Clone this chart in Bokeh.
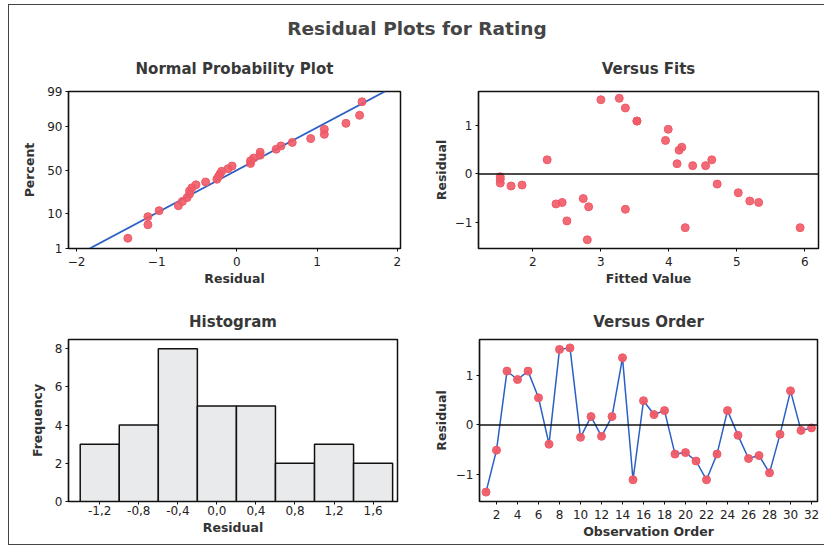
import math
import numpy as np
from bokeh.plotting import figure
from bokeh.layouts import column, row
from bokeh.models import FixedTicker, Span
from bokeh.embed import file_html
from bokeh.resources import INLINE

# ---------------- data ----------------
observation = list(range(1, 33))
residuals = [-1.36, -0.51, 1.09, 0.92, 1.09, 0.55, -0.39, 1.53, 1.56, -0.25,
             0.17, -0.23, 0.17, 1.36, -1.11, 0.49, 0.21, 0.29, -0.59, -0.56,
             -0.73, -1.11, -0.59, 0.29, -0.21, -0.68, -0.62, -0.97, -0.19, 0.69,
             -0.11, -0.06]
fitted = [2.80, 2.74, 3.53, 3.99, 3.53, 4.19, 5.02, 3.00, 3.27, 1.68,
          4.35, 1.84, 4.54, 3.36, 4.24, 4.15, 4.12, 4.63, 2.43, 5.19,
          3.36, 5.93, 5.32, 2.21, 4.71, 2.82, 2.34, 2.50, 1.52, 3.95,
          1.52, 1.52]
hist_centers = [-1.2, -0.8, -0.4, 0.0, 0.4, 0.8, 1.2, 1.6]
hist_counts = [3, 4, 8, 5, 5, 2, 3, 2]
hist_labels = ["-1,2", "-0,8", "-0,4", "0,0", "0,4", "0,8", "1,2", "1,6"]
hist_width = 0.4
prob_ticks = [1, 10, 50, 90, 99]
fits_ticks = [2, 3, 4, 5, 6]
resid_ticks = [-1, 0, 1]
order_ticks = list(range(2, 33, 2))
freq_ticks = [0, 2, 4, 6, 8]
prob_x_ticks = [-2, -1, 0, 1, 2]

# ---------------- helpers ----------------
def norm_cdf(x):
    return 0.5 * (1.0 + math.erf(x / math.sqrt(2.0)))

def norm_ppf(p):
    lo, hi = -10.0, 10.0
    for _ in range(200):
        mid = 0.5 * (lo + hi)
        if norm_cdf(mid) < p:
            lo = mid
        else:
            hi = mid
    return 0.5 * (lo + hi)

PT_COLOR = "#ef5a66"
LINE_COLOR = "#2a5fc4"
FONT = "DejaVu Sans"

def style(p, xlabel, ylabel, title_standoff):
    p.title.text_font = FONT
    p.title.text_font_size = "15px"
    p.title.text_font_style = "bold"
    p.title.text_color = "#383838"
    p.title.align = "center"
    p.title.standoff = title_standoff
    p.xgrid.visible = False
    p.ygrid.visible = False
    p.outline_line_color = "#111111"
    p.outline_line_width = 1.5
    p.background_fill_color = "white"
    p.border_fill_color = "white"
    p.xaxis.axis_label = xlabel
    p.yaxis.axis_label = ylabel
    for ax in (p.xaxis[0], p.yaxis[0]):
        ax.axis_label_text_font = FONT
        ax.axis_label_text_font_size = "12.5px"
        ax.axis_label_text_font_style = "bold"
        ax.axis_label_text_color = "#333333"
        ax.major_label_text_font = FONT
        ax.major_label_text_font_size = "12px"
        ax.major_label_text_color = "#222222"
        ax.major_tick_out = 3
        ax.major_tick_in = 0
        ax.minor_tick_out = 0
        ax.minor_tick_in = 0
        ax.axis_line_color = "#111111"
        ax.axis_line_width = 1.2
        ax.major_tick_line_color = "#111111"
    p.xaxis[0].major_label_standoff = 5
    p.xaxis[0].axis_label_standoff = 2
    p.yaxis[0].major_label_standoff = 3
    p.yaxis[0].axis_label_standoff = 7

def make_fig(title, width, height, left, right, top, bottom, x_range, y_range):
    p = figure(width=width, height=height, title=title, toolbar_location=None,
               output_backend="svg", x_range=x_range, y_range=y_range,
               min_border_left=left, min_border_right=right,
               min_border_top=top, min_border_bottom=bottom)
    return p

# ---------------- main title ----------------
t = figure(width=815, height=34, toolbar_location=None, output_backend="svg",
           x_range=(0, 1), y_range=(0, 1), min_border_left=0, min_border_right=0,
           min_border_top=33, min_border_bottom=0,
           title="Residual Plots for Rating")
t.title.text_font = FONT
t.title.text_font_size = "18.5px"
t.title.text_font_style = "bold"
t.title.text_color = "#454545"
t.title.align = "center"
t.title.standoff = 0
t.axis.visible = False
t.grid.visible = False
t.outline_line_color = None

# ---------------- normal probability plot ----------------
n = len(residuals)
sorted_res = np.sort(np.array(residuals))
ranks = np.arange(1, n + 1)
z_pts = [norm_ppf((i - 0.3) / (n + 0.4)) for i in ranks]
mu = float(np.mean(residuals))
sd = float(np.std(residuals, ddof=1))
z_ticks = [norm_ppf(v / 100.0) for v in prob_ticks]
z_lo, z_hi = z_ticks[0], z_ticks[-1]

p1 = make_fig("Normal Probability Plot", 404, 251, 59, 13, 50, 42, (-2.1, 2.04), (z_lo, z_hi))
style(p1, "Residual", "Percent", 28)
p1.line([mu + sd * z_lo, mu + sd * z_hi], [z_lo, z_hi], line_color=LINE_COLOR, line_width=1.8)
p1.scatter(sorted_res, z_pts, size=8, fill_color=PT_COLOR, line_color=PT_COLOR, fill_alpha=0.9)
p1.xaxis[0].ticker = FixedTicker(ticks=prob_x_ticks)
p1.yaxis[0].ticker = FixedTicker(ticks=z_ticks)
p1.yaxis[0].major_label_overrides = {z: str(v) for z, v in zip(z_ticks, prob_ticks)}

# ---------------- versus fits ----------------
p2 = make_fig("Versus Fits", 410, 251, 65, 5, 52, 41, (1.2, 6.2), (-1.54, 1.70))
style(p2, "Fitted Value", "Residual", 28)
p2.yaxis[0].axis_label_standoff = 3
p2.add_layout(Span(location=0, dimension="width", line_color="#111111", line_width=1.5))
p2.scatter(fitted, residuals, size=8, fill_color=PT_COLOR, line_color=PT_COLOR, fill_alpha=0.9)
p2.xaxis[0].ticker = FixedTicker(ticks=fits_ticks)
p2.yaxis[0].ticker = FixedTicker(ticks=resid_ticks)

# ---------------- histogram ----------------
p3 = make_fig("Histogram", 404, 254, 59, 16, 48, 43, (-1.52, 1.85), (0, 8.48))
style(p3, "Residual", "Frequency", 17)
lefts = [c - hist_width / 2 for c in hist_centers]
rights = [c + hist_width / 2 for c in hist_centers]
p3.quad(left=lefts, right=rights, bottom=0, top=hist_counts,
        fill_color="#e8eaeb", line_color="#111111", line_width=1.5)
p3.xaxis[0].ticker = FixedTicker(ticks=hist_centers)
p3.xaxis[0].major_label_overrides = {c: l for c, l in zip(hist_centers, hist_labels)}
p3.yaxis[0].ticker = FixedTicker(ticks=freq_ticks)
p3.xaxis[0].major_label_standoff = 1

# ---------------- versus order ----------------
p4 = make_fig("Versus Order", 410, 254, 66, 6, 49, 41, (0.38, 32.57), (-1.55, 1.73))
style(p4, "Observation Order", "Residual", 17)
p4.yaxis[0].axis_label_standoff = 4
p4.add_layout(Span(location=0, dimension="width", line_color="#111111", line_width=1.5))
p4.line(observation, residuals, line_color=LINE_COLOR, line_width=1.5)
p4.scatter(observation, residuals, size=8, fill_color=PT_COLOR, line_color=PT_COLOR, fill_alpha=0.95)
p4.xaxis[0].ticker = FixedTicker(ticks=order_ticks)
p4.yaxis[0].ticker = FixedTicker(ticks=resid_ticks)
p4.xaxis[0].major_label_standoff = 5
p4.xaxis[0].axis_label_standoff = 2

layout = column(t, row(p1, p2), row(p3, p4),
                styles={"border-left": "1px solid #444", "border-top": "1px solid #444",
                        "border-bottom": "1px solid #444",
                        "margin-left": "8px", "margin-top": "4px"})

open("out.html", "w").write(file_html(layout, INLINE))
